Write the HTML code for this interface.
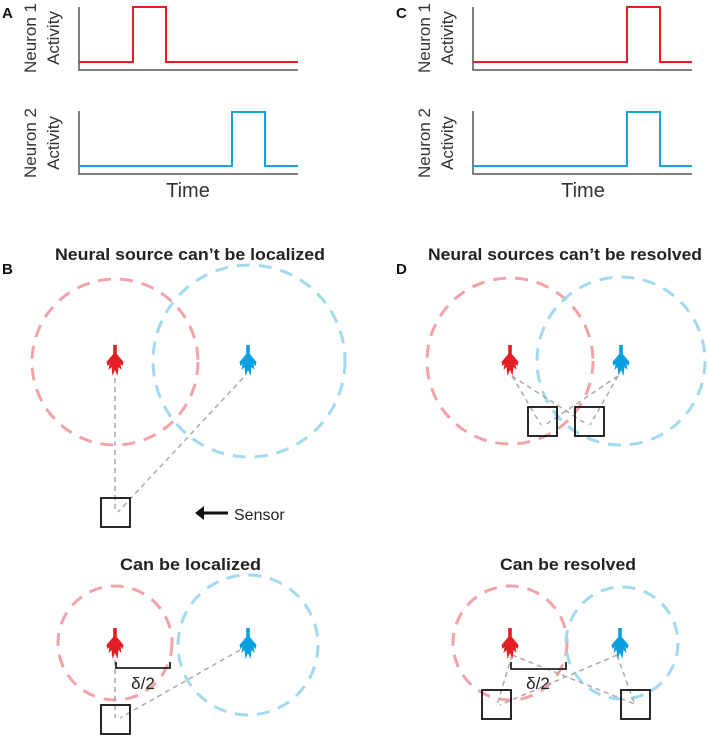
<!DOCTYPE html>
<html><head><meta charset="utf-8"><style>
html,body{margin:0;padding:0;background:#fff;}
svg{display:block;font-family:"Liberation Sans",sans-serif;}
</style></head><body>
<svg width="708" height="737" viewBox="0 0 708 737" xmlns="http://www.w3.org/2000/svg">
<defs>
<path id="nr" d="M-1.8,0 H1.8 V9 L8.5,17 L7.5,21 L5.5,19 L6.5,25 L3.5,22 L2.5,31 L0,25 L-2.5,31 L-3.5,22 L-6.5,25 L-5.5,19 L-7.5,21 L-8.5,17 L-1.8,9 Z"/>
</defs>
<g font-weight="bold" font-size="15" fill="#111">
<text x="2" y="18">A</text><text x="2" y="274">B</text>
<text x="396" y="18">C</text><text x="396" y="274">D</text>
</g>
<g fill="none" stroke-width="1.5">
<path d="M79,7 V70 H298" stroke="#555"/>
<path d="M79,62 H133 V7 H166 V62 H298" stroke="#e31e24" stroke-width="2"/>
<path d="M79,111 V174 H298" stroke="#555"/>
<path d="M79,166 H232 V112 H265 V166 H298" stroke="#1aa0dc" stroke-width="2"/>
<path d="M473,7 V70 H692" stroke="#555"/>
<path d="M473,62 H627 V7 H660 V62 H692" stroke="#e31e24" stroke-width="2"/>
<path d="M473,111 V174 H692" stroke="#555"/>
<path d="M473,166 H627 V112 H660 V166 H692" stroke="#1aa0dc" stroke-width="2"/>
</g>
<g font-size="17" fill="#333" text-anchor="middle">
<text transform="translate(36,38) rotate(-90)">Neuron 1</text>
<text transform="translate(59,38) rotate(-90)">Activity</text>
<text transform="translate(36,143) rotate(-90)">Neuron 2</text>
<text transform="translate(59,143) rotate(-90)">Activity</text>
<text transform="translate(430,38) rotate(-90)">Neuron 1</text>
<text transform="translate(453,38) rotate(-90)">Activity</text>
<text transform="translate(430,143) rotate(-90)">Neuron 2</text>
<text transform="translate(453,143) rotate(-90)">Activity</text>
<text x="188" y="197" font-size="20">Time</text>
<text x="583" y="197" font-size="20">Time</text>
</g>
<g font-weight="bold" font-size="16.5" fill="#222">
<text x="55" y="260" textLength="270" lengthAdjust="spacingAndGlyphs">Neural source can’t be localized</text>
<text x="428" y="260" textLength="274" lengthAdjust="spacingAndGlyphs">Neural sources can’t be resolved</text>
<text x="120" y="570" textLength="141" lengthAdjust="spacingAndGlyphs">Can be localized</text>
<text x="500" y="570" textLength="136" lengthAdjust="spacingAndGlyphs">Can be resolved</text>
</g>
<g fill="none" stroke-width="3" stroke-dasharray="13 9">
<circle cx="115" cy="362" r="83" stroke="#f2a3a8"/>
<circle cx="249" cy="361" r="96" stroke="#a2d9f1"/>
<circle cx="510" cy="361" r="83" stroke="#f2a3a8"/>
<circle cx="621" cy="361" r="84" stroke="#a2d9f1"/>
<circle cx="115" cy="643" r="57" stroke="#f2a3a8"/>
<circle cx="248" cy="645" r="70" stroke="#a2d9f1"/>
<circle cx="510" cy="643" r="57" stroke="#f2a3a8"/>
<circle cx="622" cy="643" r="56" stroke="#a2d9f1"/>
</g>
<g fill="none" stroke="#aaa" stroke-width="1.5" stroke-dasharray="5 4">
<path d="M115,378 V512 M243,378 L118,512"/>
<path d="M512,376 L541,425 M512,376 L588,425 M618,376 L545,425 M618,376 L590,425"/>
<path d="M115,660 V718 M240,650 L120,718"/>
<path d="M512,655 L497,705 M512,655 L637,705 M617,655 L500,705 M617,655 L635,705"/>
</g>
<g fill="none" stroke="#111" stroke-width="1.8">
<rect x="101" y="498" width="29" height="29"/>
<rect x="528" y="407" width="29" height="29"/>
<rect x="575" y="407" width="29" height="29"/>
<rect x="101" y="705" width="29" height="29"/>
<rect x="482" y="690" width="29" height="29"/>
<rect x="621" y="690" width="29" height="29"/>
</g>
<use href="#nr" x="115" y="345" fill="#e31e24"/>
<use href="#nr" x="248" y="345" fill="#0aa0e0"/>
<use href="#nr" x="510" y="345" fill="#e31e24"/>
<use href="#nr" x="621" y="345" fill="#0aa0e0"/>
<use href="#nr" x="115" y="628" fill="#e31e24"/>
<use href="#nr" x="248" y="628" fill="#0aa0e0"/>
<use href="#nr" x="510" y="628" fill="#e31e24"/>
<use href="#nr" x="620" y="628" fill="#0aa0e0"/>
<g fill="none" stroke="#222" stroke-width="1.8">
<path d="M116,662 V668 H170 V662"/>
<path d="M511,662 V669 H566 V662"/>
</g>
<g font-size="17" fill="#222" text-anchor="middle">
<text x="143" y="689">δ/2</text>
<text x="538" y="689">δ/2</text>
</g>
<path d="M197,513 H228" stroke="#111" stroke-width="3"/>
<path d="M195,513 L204,506 L204,520 Z" fill="#111"/>
<text x="234" y="520" font-size="16" fill="#222">Sensor</text>
</svg>
</body></html>
